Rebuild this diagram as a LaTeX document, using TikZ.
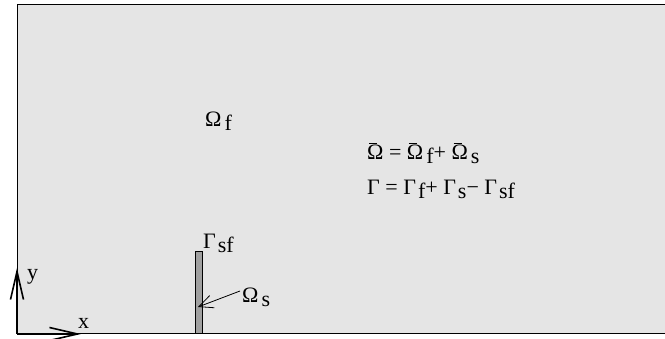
\documentclass[tikz,border=0pt]{standalone}
\usepackage{fontspec}
\setmainfont{Liberation Serif}
\usetikzlibrary{arrows.meta}
\definecolor{bgfill}{HTML}{E5E5E5}
\definecolor{barfill}{HTML}{A0A0A0}
\newcommand\sbs[1]{\kern2pt\raisebox{-4pt}{#1}}
\newcommand\osbs[1]{\kern3pt\raisebox{-4pt}{#1}}
\newcommand\obar[1]{\leavevmode\rlap{\kern2pt\raisebox{16pt}{\rule{8pt}{0.9pt}}}#1}
\tikzset{
  lbl/.style={anchor=base west,inner sep=0pt,font=\fontsize{22}{24}\selectfont},
  axis/.style={line width=1.4pt,-{Straight Barb[length=28pt,width=13pt,line width=1.6pt]}},
  pointer/.style={line width=0.8pt,-{Straight Barb[length=14pt,width=13pt,line width=0.8pt]}}
}
\begin{document}
\begin{tikzpicture}[x=1pt,y=-1pt]
\useasboundingbox (0,0) rectangle (665,339);
\draw[fill=bgfill,line width=1pt] (17,5) rectangle (720,334);
\node[draw,fill=barfill,line width=0.8pt,minimum width=7.4pt,minimum height=82pt,inner sep=0pt,anchor=south] (bar) at (199,334) {};
\coordinate (o) at (17,334);
\coordinate (ytip) at (17,268);
\coordinate (xtip) at (81,334);
\draw[axis] (o) -- (ytip);
\draw[axis] (o) -- (xtip);
\node[lbl] (ylab) at (27,280) {y};
\node[lbl] (xlab) at (78,329) {x};
\node[lbl] (of) at (205,127) {Ω\osbs{f}};
\node[lbl] (gsf) at (203,249) {Γ\sbs{sf}};
\node[lbl] (os) at (242,303) {Ω\osbs{s}};
\coordinate (ptrstart) at (240,291);
\coordinate (ptrend) at (198,307);
\draw[pointer] (ptrstart) -- (ptrend);
\node[lbl] (eq1) at (367,159.5) {\obar{Ω} = \obar{Ω}\osbs{f}+ \obar{Ω}\osbs{s}};
\node[lbl] (eq2) at (367,195) {Γ = Γ\sbs{f}+ Γ\sbs{s}− Γ\sbs{sf}};
\end{tikzpicture}
\end{document}
